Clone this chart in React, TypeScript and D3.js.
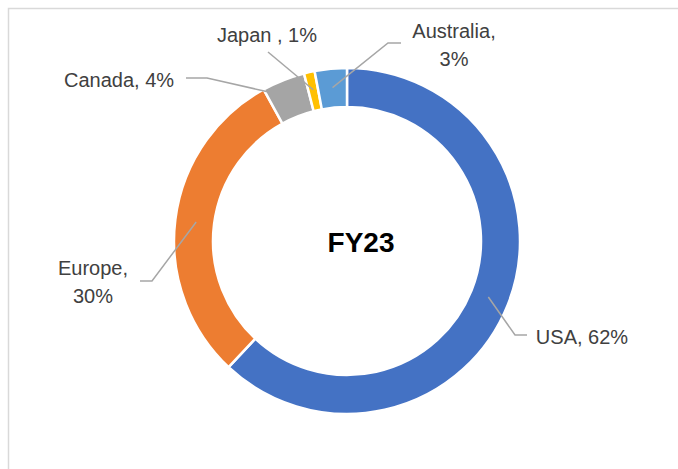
import React from "react";
import * as d3 from "d3";

const categories = ["USA", "Europe", "Canada", "Japan", "Australia"];
const values = [62, 30, 4, 1, 3];
const labelTexts = [["USA, 62%"], ["Europe,", "30%"], ["Canada, 4%"], ["Japan , 1%"], ["Australia,", "3%"]];
const colors = ["#4472C4", "#ED7D31", "#A5A5A5", "#FFC000", "#5B9BD5"];
const centerTitle = "FY23";

// layout for labels (annotation positions)
const labelLayout = [
  { x: 582, y: 344, anchor: "middle", startAngleDeg: null as number | null, r: 152, bend: [515, 335], end: [527, 335] },
  { x: 93, y: 275, anchor: "middle", startAngleDeg: null, r: 152, bend: [152, 281], end: [140, 281] },
  { x: 119, y: 87, anchor: "middle", startAngleDeg: 332, r: 169, bend: [207, 78], end: [186, 78] },
  { x: 267, y: 42, anchor: "middle", startAngleDeg: null, r: 155, bend: [268, 52], end: [268, 52] },
  { x: 454, y: 38, anchor: "middle", startAngleDeg: null, r: 154, bend: [388, 43], end: [401, 43] },
];

const W = 678, H = 469;
const cx = 347, cy = 241;
const outerR = 173, innerR = 134;

export default function App() {
  const pie = d3.pie<number>().sort(null).value((d) => d)(values);
  const arc = d3.arc<d3.PieArcDatum<number>>().innerRadius(innerR).outerRadius(outerR);
  return (
    <svg width={W} height={H} style={{ position: "absolute", left: 0, top: 0, background: "#fff" }}>
      <rect x={8.5} y={8.5} width={W} height={H} fill="#fff" stroke="#d9d9d9" strokeWidth={1.5} />
      <g transform={`translate(${cx},${cy})`}>
        {pie.map((p, i) => (
          <path key={categories[i]} d={arc(p) || ""} fill={colors[i]} stroke="#fff" strokeWidth={2.5} />
        ))}
      </g>
      {pie.map((p, i) => {
        const L = labelLayout[i];
        const ang = L.startAngleDeg != null ? (L.startAngleDeg * Math.PI) / 180 : (p.startAngle + p.endAngle) / 2;
        const sx = cx + L.r * Math.sin(ang);
        const sy = cy - L.r * Math.cos(ang);
        const pts = [[sx, sy], L.bend, L.end];
        return (
          <polyline key={"l" + i} points={pts.map((q) => q.join(",")).join(" ")} fill="none" stroke="#a6a6a6" strokeWidth={1.5} />
        );
      })}
      {labelTexts.map((lines, i) => {
        const L = labelLayout[i];
        return (
          <text key={"t" + i} x={L.x} y={L.y} textAnchor={L.anchor as any} fontFamily="'Liberation Sans', Arial, sans-serif" fontSize={20} fill="#404040">
            {lines.map((ln, j) => (
              <tspan key={j} x={L.x} dy={j === 0 ? 0 : 28}>{ln}</tspan>
            ))}
          </text>
        );
      })}
      <text x={361} y={252} textAnchor="middle" fontFamily="'Liberation Sans', Arial, sans-serif" fontWeight="bold" fontSize={28} fill="#000">{centerTitle}</text>
    </svg>
  );
}
